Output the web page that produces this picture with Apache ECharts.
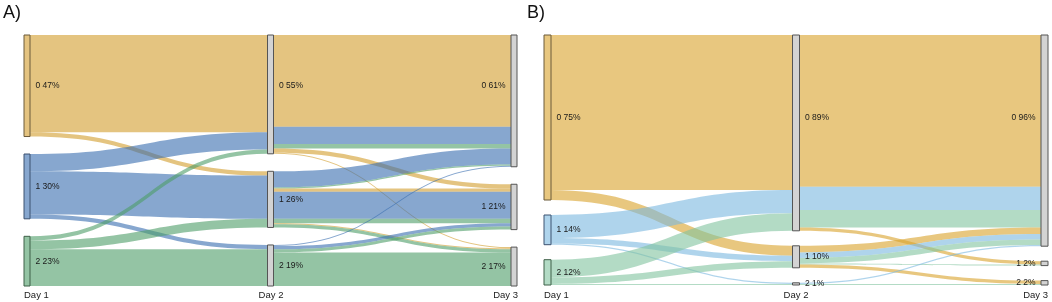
<!DOCTYPE html>
<html><head><meta charset="utf-8">
<script src="https://cdn.jsdelivr.net/npm/echarts@6/dist/echarts.min.js"></script>
<style>html,body{margin:0;padding:0;background:#fff}#c{width:1052px;height:302px}</style>
</head><body><div id="c"></div>
<script>
// ---- data ----
const panelTitles = ['A)', 'B)'];
const dayLabels = ['Day 1', 'Day 2', 'Day 3'];
const groupNames = ['0', '1', '2'];
// percentage labels per day (rows) and group (cols)
const pctA = [[47, 30, 23], [55, 26, 19], [61, 21, 17]];
const pctB = [[75, 14, 12], [89, 10, 1], [96, 2, 2]];
// Day1 -> Day2 flows: [fromGroup, toGroup, value]
const flowsA12 = [[0,0,45],[0,1,2],[1,0,8],[1,1,20],[1,2,2],[2,0,2],[2,1,4],[2,2,17]];
// Day2 -> Day3 flows: [fromGroup, toGroup, day1Group, value]
const flowsA23 = [
  [0,0,0,42.5],[0,0,1,8],[0,0,2,2],[0,1,0,2],[0,2,0,0.5],
  [1,0,1,7.5],[1,0,2,0.5],[1,1,0,1.5],[1,1,1,12.5],[1,1,2,2],[1,2,0,0.5],[1,2,2,1.5],
  [2,0,1,0.5],[2,1,1,1.5],[2,1,2,1.5],[2,2,2,15.5]
];
const flowsB12 = [[0,0,70.5],[0,1,4.5],[1,0,10.5],[1,1,2.5],[1,2,0.5],[2,0,8],[2,1,3],[2,2,0.5]];
const flowsB23 = [
  [0,0,0,69],[0,0,1,10.5],[0,0,2,8],[0,1,0,1.5],
  [1,0,0,3],[1,0,1,2.5],[1,0,2,2.5],[1,1,2,0.5],[1,2,0,1.5],
  [2,0,1,0.5],[2,2,2,0.5]
];

// ---- styles ----
const flowColA = ['rgb(210,157,43)', 'rgb(55,108,175)', 'rgb(77,157,103)'];
const nodeColA = ['#E4C380', '#87A7CF', '#94C4A4'];
const nodeBorderA = ['#6b5a3a', '#3d5270', '#3f6149'];
const flowColB = ['rgb(217,162,42)', 'rgb(122,183,223)', 'rgb(128,195,158)'];
const nodeColB = ['#E8C77F', '#AFD4EC', '#B3DBC5'];
const nodeBorderB = ['#6b5a3a', '#3d5270', '#3f6149'];

const CH = 302;

function buildSeries(prefix, pct, f12, f23, flowCol, nodeCol, nodeBorder, box) {
  // node values per day/group (from the flows) for label alignment of group 0
  const vals = [[0,0,0],[0,0,0],[0,0,0]];
  f12.forEach(f => { vals[0][f[0]] += f[2]; vals[1][f[1]] += f[2]; });
  f23.forEach(f => { vals[2][f[1]] += f[3]; });
  const total = vals[0][0] + vals[0][1] + vals[0][2];
  const ky = (CH - box.top - box.bottom - 2 * box.nodeGap) / total;

  const nodes = [];
  for (let d = 0; d < 3; d++) {
    for (let g = 0; g < 3; g++) {
      const lbl = { position: d === 2 ? 'left' : 'right', formatter: groupNames[g] + ' ' + pct[d][g] + '%' };
      if (g === 0 && d > 0) {
        lbl.offset = [0, -(vals[d][0] - vals[0][0]) * ky / 2];
      }
      nodes.push({
        name: prefix + d + g,
        itemStyle: d === 0
          ? { color: nodeCol[g], borderColor: nodeBorder[g], borderWidth: 1 }
          : { color: '#d3d3d3', borderColor: '#555', borderWidth: 1 },
        label: lbl
      });
    }
  }
  const links = [];
  f12.forEach(f => links.push({
    source: prefix + '0' + f[0], target: prefix + '1' + f[1], value: f[2],
    lineStyle: { color: flowCol[f[0]] }
  }));
  f23.forEach(f => links.push({
    source: prefix + '1' + f[0], target: prefix + '2' + f[1], value: f[3],
    lineStyle: { color: flowCol[f[2]] }
  }));
  return Object.assign({
    type: 'sankey',
    layoutIterations: 0,
    draggable: false,
    silent: true,
    emphasis: { disabled: true },
    nodeAlign: 'justify',
    data: nodes,
    links: links,
    lineStyle: { opacity: 0.6, curveness: 0.5 },
    label: { fontSize: 8.5, color: '#1a1a1a', fontFamily: 'Liberation Sans', distance: 5 }
  }, box);
}

const chart = echarts.init(document.getElementById('c'), null, { renderer: 'canvas' });

const dayTextStyle = { fontSize: 9.5, fill: '#222', fontFamily: 'Liberation Sans' };
function dayText(x, align, i) {
  return { type: 'text', x: x, y: 295,
    style: Object.assign({ text: dayLabels[i], align: align, verticalAlign: 'middle' }, dayTextStyle) };
}

chart.setOption({
  animation: false,
  title: [
    { text: panelTitles[0], left: 3, top: 4, padding: 0, textStyle: { fontSize: 18, fontWeight: 'normal', color: '#111', fontFamily: 'Liberation Sans' } },
    { text: panelTitles[1], left: 527, top: 4, padding: 0, textStyle: { fontSize: 18, fontWeight: 'normal', color: '#111', fontFamily: 'Liberation Sans' } }
  ],
  series: [
    buildSeries('A', pctA, flowsA12, flowsA23, flowColA, nodeColA, nodeBorderA,
      { left: 24, right: 535, top: 35, bottom: 16, nodeWidth: 6, nodeGap: 17.5 }),
    buildSeries('B', pctB, flowsB12, flowsB23, flowColB, nodeColB, nodeBorderB,
      { left: 544, right: 4, top: 35, bottom: 17, nodeWidth: 7, nodeGap: 15 })
  ],
  graphic: [
    dayText(24, 'left', 0), dayText(271, 'center', 1), dayText(518, 'right', 2),
    dayText(544, 'left', 0), dayText(796, 'center', 1), dayText(1048, 'right', 2)
  ]
});
</script>
</body></html>
